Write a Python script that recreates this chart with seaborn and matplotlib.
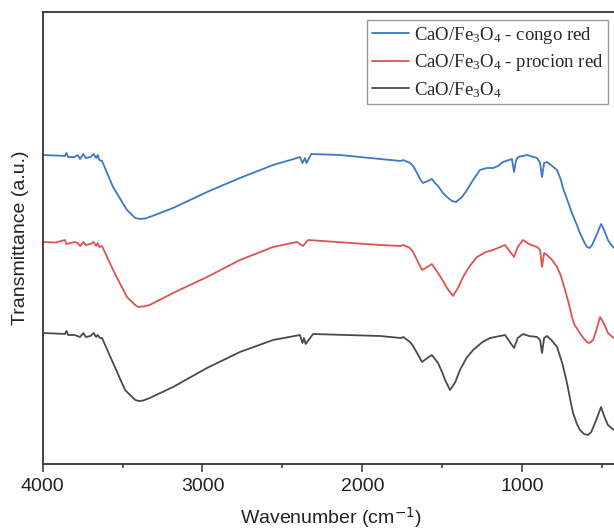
import matplotlib
matplotlib.use("Agg")
import matplotlib.pyplot as plt
import seaborn as sns
import pandas as pd
from matplotlib.ticker import MultipleLocator

# ---- data (wavenumber in cm-1, transmittance in a.u.) ----
series_names = ["CaO/Fe$_3$O$_4$ - congo red",
                "CaO/Fe$_3$O$_4$ - procion red",
                "CaO/Fe$_3$O$_4$"]

congo_wn = [4000, 3920, 3860, 3850, 3840, 3800, 3780, 3765, 3745, 3730, 3700, 3680, 3665, 3655,
            3645, 3628, 3559, 3472, 3440, 3420, 3391, 3360, 3330, 3184, 2972, 2766, 2559, 2430,
            2391, 2375, 2360, 2350, 2320, 2141, 1891, 1760, 1745, 1703, 1684, 1659, 1641, 1622,
            1591, 1566, 1547, 1528, 1497, 1472, 1441, 1416, 1378, 1347, 1309, 1266, 1222, 1184,
            1153, 1122, 1066, 1053, 1040, 1028, 972, 909, 890, 878, 865, 847, 830, 784, 760, 747,
            720, 691, 660, 641, 615, 597, 580, 565, 540, 509, 490, 466, 445, 428]
congo_t = [309, 308.5, 308, 311, 307, 307, 309, 305, 310, 306, 307, 310, 306, 309,
           304, 303, 277, 254, 249, 246, 245, 245.5, 247, 256, 272, 286, 299, 305,
           307, 301, 306, 301, 310, 309, 305, 303, 304, 301, 298, 291, 285, 281,
           283, 285, 281, 278, 271, 267, 263, 262, 267, 274, 284, 294, 296, 296,
           298, 302, 305, 292, 304, 307, 309, 306, 301, 287, 301, 302, 300, 294, 284, 276,
           264, 251, 239, 231, 222, 217, 216, 219, 228, 240, 234, 224, 219, 216]

procion_wn = [4000, 3920, 3860, 3850, 3800, 3780, 3765, 3745, 3730, 3700, 3680, 3665, 3655,
              3645, 3628, 3559, 3472, 3440, 3420, 3403, 3370, 3330, 3184, 2972, 2766, 2559, 2410,
              2372, 2340, 1891, 1760, 1745, 1703, 1684, 1659, 1628, 1595, 1566, 1528, 1500, 1472,
              1434, 1400, 1372, 1330, 1284, 1230, 1184, 1109, 1053, 1030, 997, 960, 909, 890, 878,
              865, 847, 820, 784, 760, 734, 710, 691, 672, 665, 650, 620, 597, 580, 559, 540, 515,
              490, 466, 445, 428]
procion_t = [222, 221.5, 224, 220, 222, 221, 218, 222, 219, 220, 222, 218, 221,
             217, 218, 194, 167, 162, 159, 157, 157.5, 159, 171, 187, 204, 217, 222,
             218, 224, 219, 218, 219, 216, 212, 204, 194, 197, 200, 191, 184, 176,
             168, 177, 187, 198, 207, 212, 214, 219, 207, 217, 224, 220, 217, 214, 197,
             211, 209, 205, 197, 188, 174, 160, 147, 138, 137, 133, 126, 122, 121, 124, 133, 147,
             140, 131, 128, 126]

base_wn = [4000, 3920, 3860, 3850, 3840, 3800, 3765, 3745, 3730, 3700, 3680, 3665, 3655,
           3641, 3628, 3559, 3484, 3440, 3420, 3397, 3370, 3330, 3184, 2972, 2766, 2559, 2391,
           2375, 2366, 2355, 2309, 1891, 1760, 1745, 1703, 1684, 1659, 1628, 1595, 1566, 1528,
           1500, 1484, 1453, 1420, 1391, 1350, 1309, 1250, 1203, 1109, 1053, 1030, 997, 960, 909,
           890, 878, 865, 847, 820, 784, 750, 722, 700, 684, 660, 641, 615, 591, 570, 547, 530,
           509, 490, 466, 445, 428]
base_t = [131, 130.5, 130, 133, 129, 129, 127, 131, 127, 128, 131, 127, 129,
          126, 126, 101, 74, 67, 64, 63, 63.5, 66, 77, 96, 112, 124, 129,
          121, 126, 120, 130, 128, 126, 127, 122, 118, 111, 102, 106, 109, 101,
          91, 84, 74, 82, 94, 106, 114, 122, 126, 129, 116, 126, 130, 128, 127,
          124, 111, 126, 128, 124, 117, 100, 81, 63, 51, 40, 34, 30, 29, 32, 41, 48,
          57, 48, 39, 36, 34]

colors = ["#3d78c6", "#e05252", "#4a4a4a"]

frames = []
for name, wn, t in zip(series_names, [congo_wn, procion_wn, base_wn], [congo_t, procion_t, base_t]):
    frames.append(pd.DataFrame({"wn": wn, "t": t, "sample": name}))
df = pd.concat(frames, ignore_index=True)

# ---- figure ----
sns.set_style("ticks")
plt.rcParams["font.family"] = ["Liberation Sans", "DejaVu Sans"]
plt.rcParams["mathtext.fontset"] = "custom"
plt.rcParams["mathtext.rm"] = "Liberation Serif"
plt.rcParams["mathtext.it"] = "Liberation Serif:italic"

fig = plt.figure(figsize=(6.14, 5.30), dpi=100)
ax = fig.add_axes([42.5 / 614, 66 / 530, 576 / 614, 452 / 530])

sns.lineplot(data=df, x="wn", y="t", hue="sample", palette=colors, hue_order=series_names,
             estimator=None, sort=False, linewidth=1.3, ax=ax)

ax.set_xlim(4000, 400)
ax.set_ylim(0, 452)
ax.set_yticks([])
ax.xaxis.set_major_locator(MultipleLocator(1000))
ax.xaxis.set_minor_locator(MultipleLocator(500))
ax.tick_params(axis="x", which="major", length=6, width=1.1, color="#333333",
               labelsize=14, pad=4, labelcolor="#222222")
ax.tick_params(axis="x", which="minor", length=3, width=1.1, color="#333333")
for s in ax.spines.values():
    s.set_color("#333333")
    s.set_linewidth(1.3)

ax.set_xlabel("Wavenumber (cm$^{\\mathsf{-1}}$)", fontsize=14, labelpad=8, color="#222222")
ax.set_ylabel("Transmittance (a.u.)", fontsize=14, labelpad=10, color="#222222")

leg = ax.legend(loc="upper right", bbox_to_anchor=(608 / 614, 1 - 20 / 530),
                bbox_transform=fig.transFigure, borderaxespad=0, frameon=True,
                fancybox=False, edgecolor="#999999", framealpha=1,
                prop={"family": "Liberation Serif", "size": 13.5},
                handlelength=2.0, handletextpad=0.25, borderpad=0.25,
                labelspacing=0.35, title=None)
leg.get_frame().set_linewidth(1.0)

fig.savefig("out.png", dpi=100)
